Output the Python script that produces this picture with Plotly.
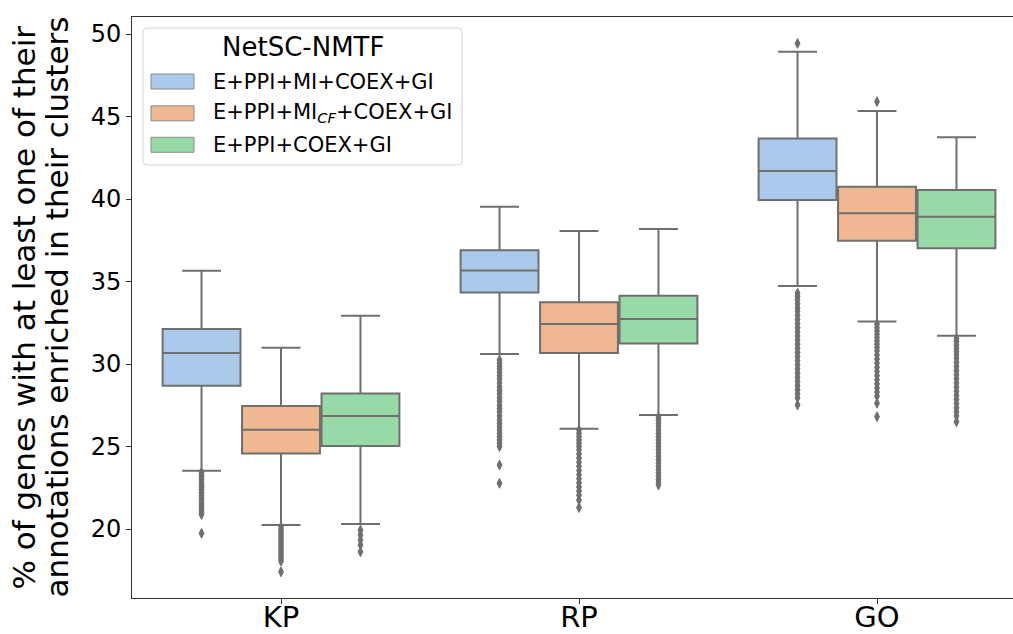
import plotly.graph_objects as go

# ---- data -------------------------------------------------------------
categories = ["KP", "RP", "GO"]
series_names = [
    "E+PPI+MI+COEX+GI",
    "E+PPI+MI<sub><i>CF</i></sub>+COEX+GI",
    "E+PPI+COEX+GI",
]

# box statistics per series, one value per category (KP, RP, GO)
q1_mi = [28.69, 34.34, 39.94]
median_mi = [30.67, 35.66, 41.70]
q3_mi = [32.12, 36.89, 43.66]
low_mi = [23.53, 30.61, 34.73]
high_mi = [35.65, 39.53, 48.93]

q1_cf = [24.57, 30.67, 37.47]
median_cf = [26.02, 32.42, 39.13]
q3_cf = [27.45, 33.74, 40.75]
low_cf = [20.24, 26.08, 32.57]
high_cf = [30.99, 38.06, 45.33]

q1_nomi = [25.03, 31.25, 37.01]
median_nomi = [26.85, 32.73, 38.93]
q3_nomi = [28.22, 34.14, 40.55]
low_nomi = [20.30, 26.91, 31.72]
high_nomi = [32.93, 38.18, 43.74]

# outliers per series and category
out_mi_kp = [23.42, 23.25, 23.1, 22.98, 22.8, 22.65, 22.5, 22.38, 22.2, 22.05,
             21.9, 21.78, 21.6, 21.45, 21.3, 21.15, 21.02, 20.88, 19.74]
out_mi_rp = [30.25, 30.05, 29.85, 29.7, 29.5, 29.3, 29.1, 28.85, 28.6, 28.4,
             28.2, 27.95, 27.75, 27.5, 27.3, 27.1, 26.85, 26.6, 26.4, 26.2,
             26.0, 25.8, 25.6, 25.4, 25.2, 25.0, 23.88, 22.77]
out_mi_go = [49.43, 34.3, 34.1, 33.9, 33.65, 33.4, 33.2, 32.95, 32.7, 32.45,
             32.2, 31.95, 31.7, 31.45, 31.2, 30.95, 30.7, 30.45, 30.2, 29.95,
             29.7, 29.45, 29.2, 28.95, 28.7, 28.45, 28.2, 27.95, 27.52]

out_cf_kp = [20.15, 20.0, 19.85, 19.7, 19.55, 19.4, 19.25, 19.1, 18.95, 18.8,
             18.65, 18.5, 18.35, 18.2, 18.05, 17.41]
out_cf_rp = [26.0, 25.8, 25.6, 25.4, 25.2, 25.0, 24.8, 24.55, 24.3, 24.05,
             23.8, 23.55, 23.3, 23.05, 22.8, 22.55, 22.3, 22.05, 21.75, 21.3]
out_cf_go = [45.9, 32.42, 32.2, 32.0, 31.8, 31.6, 31.4, 31.2, 31.0, 30.8,
             30.55, 30.3, 30.05, 29.8, 29.55, 29.3, 29.05, 28.8, 28.55, 28.3,
             28.05, 27.62, 26.81]

out_nomi_kp = [19.94, 19.64, 19.33, 19.03, 18.62]
out_nomi_rp = [26.77, 26.6, 26.4, 26.2, 26.0, 25.8, 25.6, 25.4, 25.2, 25.0,
               24.8, 24.6, 24.4, 24.2, 24.0, 23.8, 23.6, 23.4, 23.2, 23.0,
               22.85, 22.67]
out_nomi_go = [31.55, 31.35, 31.15, 30.95, 30.75, 30.55, 30.35, 30.1, 29.85,
               29.6, 29.35, 29.1, 28.85, 28.6, 28.35, 28.1, 27.85, 27.6, 27.35,
               27.1, 26.85, 26.5]

y_ticks = [20, 25, 30, 35, 40, 45, 50]

# ---- styling ----------------------------------------------------------
fills = ["#abc9ea", "#efb792", "#98daa7"]
edge = "#6f6f6f"
FONT = "DejaVu Sans"

W, H = 1013, 634
PLOT_L, PLOT_R, PLOT_T, PLOT_B = 132, 1013, 17, 598

group_width = 0.8
n_hue = 3
hue_step = group_width / n_hue
box_w = hue_step * 0.98

stats = [
    (q1_mi, median_mi, q3_mi, low_mi, high_mi, [out_mi_kp, out_mi_rp, out_mi_go]),
    (q1_cf, median_cf, q3_cf, low_cf, high_cf, [out_cf_kp, out_cf_rp, out_cf_go]),
    (q1_nomi, median_nomi, q3_nomi, low_nomi, high_nomi,
     [out_nomi_kp, out_nomi_rp, out_nomi_go]),
]

fig = go.Figure()

for j, (q1, med, q3, lo, hi, outs) in enumerate(stats):
    offset = (j - (n_hue - 1) / 2) * hue_step
    xs = [i + offset for i in range(len(categories))]
    fig.add_trace(go.Box(
        x=xs, q1=q1, median=med, q3=q3, lowerfence=lo, upperfence=hi,
        width=box_w, whiskerwidth=0.5,
        fillcolor=fills[j], line=dict(color=edge, width=2),
        boxpoints=False, showlegend=False, hoverinfo="skip",
    ))
    ox, oy = [], []
    for i, vals in enumerate(outs):
        ox += [xs[i]] * len(vals)
        oy += vals
    fig.add_trace(go.Scatter(
        x=ox, y=oy, mode="markers", showlegend=False, hoverinfo="skip",
        marker=dict(symbol="diamond-tall", size=7, color=edge,
                    line=dict(width=1, color=edge)),
    ))


def px_x(p):
    return (p - PLOT_L) / (PLOT_R - PLOT_L)


def px_y(p):
    return (PLOT_B - p) / (PLOT_B - PLOT_T)


# legend frame (rounded rectangle)
lx0, lx1, ly0, ly1, r = 143, 462, 28, 165, 4
path = (
    f"M {px_x(lx0 + r)},{px_y(ly0)} L {px_x(lx1 - r)},{px_y(ly0)} "
    f"Q {px_x(lx1)},{px_y(ly0)} {px_x(lx1)},{px_y(ly0 + r)} "
    f"L {px_x(lx1)},{px_y(ly1 - r)} "
    f"Q {px_x(lx1)},{px_y(ly1)} {px_x(lx1 - r)},{px_y(ly1)} "
    f"L {px_x(lx0 + r)},{px_y(ly1)} "
    f"Q {px_x(lx0)},{px_y(ly1)} {px_x(lx0)},{px_y(ly1 - r)} "
    f"L {px_x(lx0)},{px_y(ly0 + r)} "
    f"Q {px_x(lx0)},{px_y(ly0)} {px_x(lx0 + r)},{px_y(ly0)} Z"
)
shapes = [dict(type="path", path=path, xref="paper", yref="paper",
               fillcolor="rgba(255,255,255,0.8)",
               line=dict(color="#d6d6d6", width=1), layer="above")]
annotations = [dict(text="NetSC-NMTF", x=px_x(303), y=px_y(47),
                    xref="paper", yref="paper", xanchor="center",
                    yanchor="middle", showarrow=False,
                    font=dict(family=FONT, size=26, color="black"))]
row_centers = [81.5, 113.3, 144.8]
for j, name in enumerate(series_names):
    cy = row_centers[j]
    shapes.append(dict(type="rect", xref="paper", yref="paper",
                       x0=px_x(151), x1=px_x(194),
                       y0=px_y(cy + 7.5), y1=px_y(cy - 7.5),
                       fillcolor=fills[j], line=dict(color="#8a8a8a", width=1),
                       layer="above"))
    annotations.append(dict(text=name, x=px_x(211), y=px_y(cy), xref="paper",
                            yref="paper", xanchor="left", yanchor="middle",
                            showarrow=False,
                            font=dict(family=FONT, size=21, color="black")))

# two-line y axis label
for text, cx in [("% of genes with at least one of their", 23),
                 ("annotations enriched in their clusters", 56)]:
    annotations.append(dict(text=text, x=px_x(cx), y=0.5, xref="paper",
                            yref="paper", xanchor="center", yanchor="middle",
                            textangle=-90, showarrow=False,
                            font=dict(family=FONT, size=31, color="black")))

fig.update_layout(
    width=W, height=H,
    margin=dict(l=PLOT_L, r=W - PLOT_R, t=PLOT_T, b=H - PLOT_B, pad=0,
                autoexpand=False),
    paper_bgcolor="white", plot_bgcolor="white",
    font=dict(family=FONT, color="black"),
    shapes=shapes, annotations=annotations,
    xaxis=dict(range=[-0.5, -0.5 + (PLOT_R - PLOT_L) / 298.0],
               automargin=False, ticklabelstandoff=-12,
               tickmode="array", tickvals=list(range(len(categories))),
               ticktext=categories, ticks="outside", ticklen=5, tickwidth=1,
               tickcolor="#333333", showline=True, linecolor="#333333",
               linewidth=1, mirror=True, showgrid=False, zeroline=False,
               tickfont=dict(family=FONT, size=29, color="black")),
    yaxis=dict(range=[15.82, 51.03], tickmode="array", tickvals=y_ticks,
               automargin=False,
               ticks="outside", ticklen=5, tickwidth=1, tickcolor="#333333",
               showline=True, linecolor="#333333", linewidth=1,
               showgrid=False, zeroline=False,
               tickfont=dict(family=FONT, size=24, color="black")),
)

fig.write_html("out.html")
